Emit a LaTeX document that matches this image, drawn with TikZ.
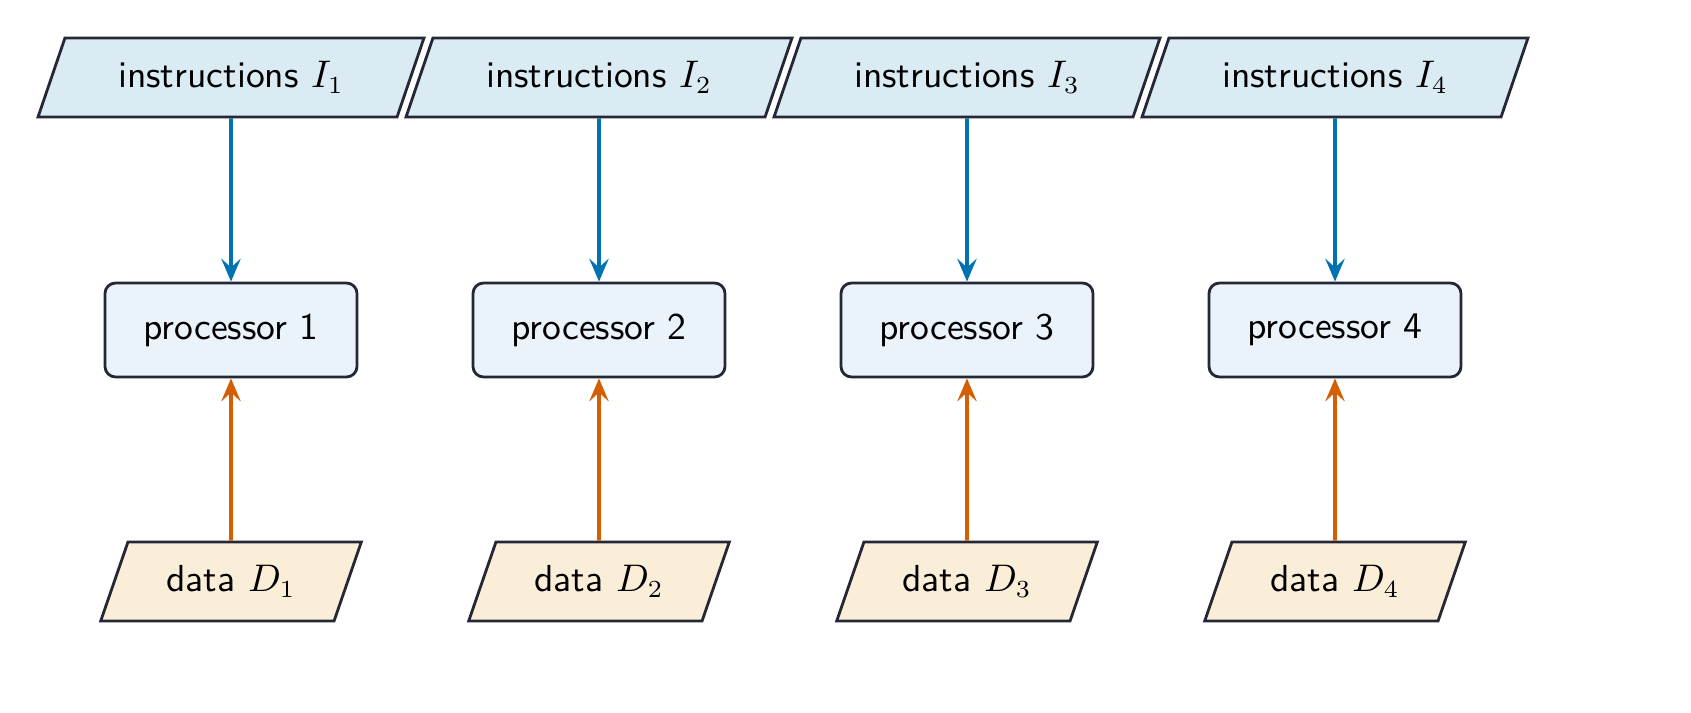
\documentclass[tikz,border=0pt]{standalone}
\usetikzlibrary{shapes.geometric,arrows.meta}
\definecolor{instrfill}{RGB}{219,235,244}
\definecolor{procfill}{RGB}{234,242,250}
\definecolor{datafill}{RGB}{250,238,216}
\definecolor{edgecol}{RGB}{35,40,52}
\definecolor{instrarrow}{RGB}{0,114,178}
\definecolor{dataarrow}{RGB}{213,94,0}

\begin{document}
\begin{tikzpicture}[font=\sffamily\fontsize{10.7}{13}\selectfont]
            \tikzstyle{slanted} = [draw=edgecol, line width=0.8pt, trapezium,
                trapezium left angle=70, trapezium right angle=110,
                trapezium stretches=true, minimum height=0.79cm]
            \tikzstyle{procbox} = [draw=edgecol, line width=0.8pt, fill=procfill,
                rounded corners=3pt, minimum width=2.52cm, minimum height=0.94cm]
            \tikzstyle{link} = [line width=1.1pt, -{Stealth[length=6.5pt,width=5.5pt,inset=2.5pt]}]
            \useasboundingbox (0, 0) rectangle (16.91, 7.12);

            \foreach \i in {1,...,4} {
                \pgfmathsetmacro{\x}{2.31 + 3.68*(\i-1)}
                \node[slanted, fill=instrfill, minimum width=3.87cm] (instr\i)
                    at (\x, 6.345) {instructions $I_{\i}$};
                \node[procbox] (proc\i) at (\x, 3.82) {processor \i};
                \node[slanted, fill=datafill, minimum width=2.62cm] (data\i)
                    at (\x, 1.305) {data $D_{\i}$};
                \draw[link, instrarrow] (instr\i) -- (proc\i);
                \draw[link, dataarrow] (data\i) -- (proc\i);
            }
        \end{tikzpicture}
\end{document}
